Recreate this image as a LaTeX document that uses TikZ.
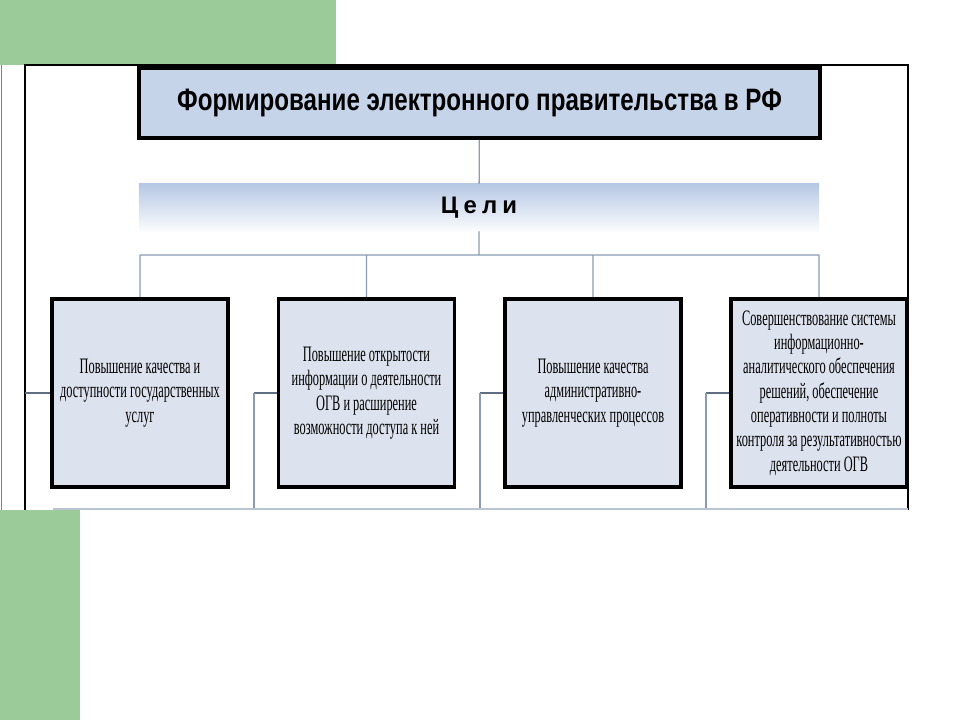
\documentclass[tikz,border=0pt]{standalone}
\usepackage{fontspec}
\setmainfont{Liberation Serif}
\newfontfamily\headfont[FakeStretch=0.78]{Liberation Sans}
\newfontfamily\barfont{Liberation Sans}
\newfontfamily\goalfont[FakeStretch=0.56]{Liberation Serif}
\usepackage{xcolor}
\usetikzlibrary{positioning}
\definecolor{slidegreen}{RGB}{155,203,152}
\definecolor{headblue}{RGB}{198,212,234}
\definecolor{goalblue}{RGB}{221,227,238}
\definecolor{barblue}{RGB}{182,200,228}
\definecolor{wire}{RGB}{138,155,178}
\definecolor{darkwire}{RGB}{95,110,130}
\tikzset{
    headbox/.style={draw, line width=2.6pt, fill=headblue, minimum width=17.025cm, minimum height=1.75cm, inner sep=0pt, font=\headfont\bfseries\fontsize{22}{24}\selectfont},
    goalbar/.style={top color=barblue, bottom color=white!94!barblue, minimum width=17cm, minimum height=1.175cm, inner sep=0pt, font=\barfont\bfseries\fontsize{17}{19}\selectfont},
    goalbox/.style={draw, line width=2.6pt, fill=goalblue, minimum width=4.4cm, minimum height=4.7cm, inner sep=2pt, align=center, font=\goalfont\fontsize{15.7}{17.3}\selectfont},
    wireline/.style={wire, line width=0.9pt}
}
\begin{document}
\begin{tikzpicture}[x=0.025cm, y=-0.025cm]
    \useasboundingbox (0, 0) rectangle (960, 720);
    \fill[slidegreen] (0, 0) rectangle (336, 65);
    \fill[slidegreen] (0, 510) rectangle (80, 720);
    \draw[line width=1pt] (25, 510) -- (25, 65) -- (908, 65) -- (908, 510);
    \draw[gray, line width=1pt] (1.5, 65) -- (1.5, 510);
    \node[headbox] (title) at (479.5, 103) {Формирование электронного правительства в РФ};
    \node[goalbar] (goals) at (479, 207.5) {Ц\hspace{0.22em}е\hspace{0.22em}л\hspace{0.22em}и};
    \node[goalbox] (g1) at (140, 393) {Повышение качества и\\доступности государственных\\услуг};
    \node[goalbox] (g2) at (366.5, 393) {Повышение открытости\\информации о деятельности\\ОГВ и расширение\\возможности доступа к ней};
    \node[goalbox] (g3) at (593, 393) {Повышение качества\\административно-\\управленческих процессов};
    \node[goalbox] (g4) at (819, 393) {Совершенствование системы\\информационно-\\аналитического обеспечения\\решений, обеспечение\\оперативности и полноты\\контроля за результативностью\\деятельности ОГВ};
    \coordinate (busmid) at (479, 255);
    \coordinate (busleft) at (140, 255);
    \coordinate (busa) at (366.5, 255);
    \coordinate (busb) at (593, 255);
    \coordinate (busright) at (819, 255);
    \coordinate (side1) at (25, 393);
    \coordinate (side2) at (254, 393);
    \coordinate (side3) at (480, 393);
    \coordinate (side4) at (706, 393);
    \coordinate (foot2) at (254, 509);
    \coordinate (foot3) at (480, 509);
    \coordinate (foot4) at (706, 509);
    \coordinate (footleft) at (53, 509);
    \coordinate (footright) at (908, 509);
    \draw[wireline]
    (title) -- (goals)
    (goals) -- (busmid)
    (busleft) -- (busright)
    (busleft) -- (g1)
    (busa) -- (g2)
    (busb) -- (g3)
    (busright) -- (g4);
    \draw[darkwire, line width=1pt]
    (side1) -- (g1)
    (side2) -- (g2)
    (side3) -- (g3)
    (side4) -- (g4);
    \draw[wireline]
    (side2) -- (foot2)
    (side3) -- (foot3)
    (side4) -- (foot4);
    \draw[wire!60, line width=1pt] (footleft) -- (footright);
\end{tikzpicture}
\end{document}
